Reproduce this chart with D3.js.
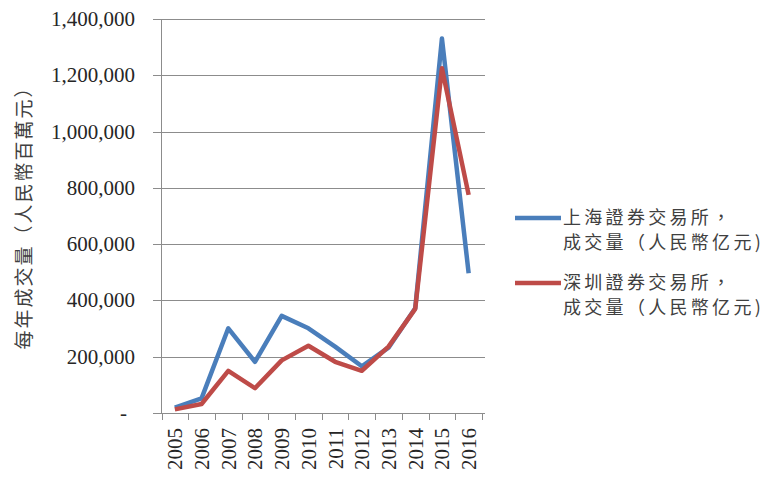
<!DOCTYPE html>
<html><head><meta charset="utf-8">
<script src="https://cdn.jsdelivr.net/npm/d3@7"></script>
<style>body{margin:0;background:#fff} .serif{font-family:"Liberation Serif","Times New Roman",serif}</style>
</head><body>
<svg id="c" width="767" height="477"></svg>
<script>
const years = ["2005","2006","2007","2008","2009","2010","2011","2012","2013","2014","2015","2016"];
const shanghai = [19000, 52000, 301000, 182000, 345000, 301000, 236000, 166000, 232000, 372000, 1331000, 497000];
const shenzhen = [13000, 32000, 150000, 88000, 187000, 239000, 182000, 150000, 236000, 370000, 1225000, 775000];
const yTicks = [0, 200000, 400000, 600000, 800000, 1000000, 1200000, 1400000];
const seriesNames = [["上海證券交易所，","成交量（人民幣亿元)"],["深圳證券交易所，","成交量（人民幣亿元)"]];
const yTitle = "每年成交量（人民幣百萬元）";
const colors = ["#4a7ebb", "#be4b48"];

const cjk = "'Noto Sans CJK TC', 'Noto Sans CJK SC', sans-serif";

const svg = d3.select("#c");
const x = d3.scaleBand().domain(years).range([161.5, 482]).padding(0);
const y = d3.scaleLinear().domain([0, 1400000]).range([413, 19]);
const fmt = d3.format(",");

// gridlines
svg.append("g").selectAll("line").data(yTicks).join("line")
  .attr("x1", 153).attr("x2", 485)
  .attr("y1", d => Math.round(y(d)) + 0.5).attr("y2", d => Math.round(y(d)) + 0.5)
  .attr("stroke", "#8c8c8c").attr("stroke-width", 1);

// y axis line
svg.append("line").attr("x1", 161.5).attr("x2", 161.5).attr("y1", y(1400000)).attr("y2", y(0) + 0.5)
  .attr("stroke", "#8c8c8c");

// x ticks at band boundaries
const bounds = years.map(d => x(d)).concat([x.range()[1]]);
svg.append("g").selectAll("line").data(bounds).join("line")
  .attr("x1", d => Math.round(d) + 0.5).attr("x2", d => Math.round(d) + 0.5)
  .attr("y1", y(0)).attr("y2", y(0) + 7).attr("stroke", "#8c8c8c");

// y labels
svg.append("g").selectAll("text").data(yTicks).join("text")
  .attr("class", "serif")
  .attr("x", d => d === 0 ? 127 : 135).attr("y", d => y(d) + 7)
  .attr("text-anchor", "end")
  .style("font-size", "21px").attr("fill", "#262626")
  .text(d => d === 0 ? "-" : fmt(d));

// x labels
svg.append("g").selectAll("text").data(years).join("text")
  .attr("class", "serif")
  .attr("transform", d => `translate(${x(d) + x.bandwidth()/2 + 7.5},${428}) rotate(-90)`)
  .attr("text-anchor", "end")
  .style("font-size", "21px").attr("fill", "#262626")
  .text(d => d);

// y title
svg.append("text")
  .attr("transform", "translate(31,213) rotate(-90)")
  .attr("text-anchor", "middle")
  .style("font-family", cjk).style("font-size", "19px").attr("letter-spacing", 2).attr("fill", "#404040")
  .text(yTitle);

// lines
const line = d3.line().x((d, i) => x(years[i]) + x.bandwidth()/2).y(d => y(d));
[shanghai, shenzhen].forEach((s, i) => {
  svg.append("path").datum(s).attr("d", line)
    .attr("fill", "none").attr("stroke", colors[i]).attr("stroke-width", 4.5)
    .attr("stroke-linejoin", "round");
});

// legend
const legY = [218, 283];
seriesNames.forEach((names, i) => {
  svg.append("line").attr("x1", 515).attr("x2", 561).attr("y1", legY[i]).attr("y2", legY[i])
    .attr("stroke", colors[i]).attr("stroke-width", 4.5);
  names.forEach((t, j) => {
    svg.append("text").attr("x", 563).attr("y", legY[i] + 5.5 + j * 25)
      .style("font-family", cjk).style("font-size", "18px").attr("letter-spacing", 3.3).attr("fill", "#404040")
      .text(t);
  });
});
</script>
</body></html>
